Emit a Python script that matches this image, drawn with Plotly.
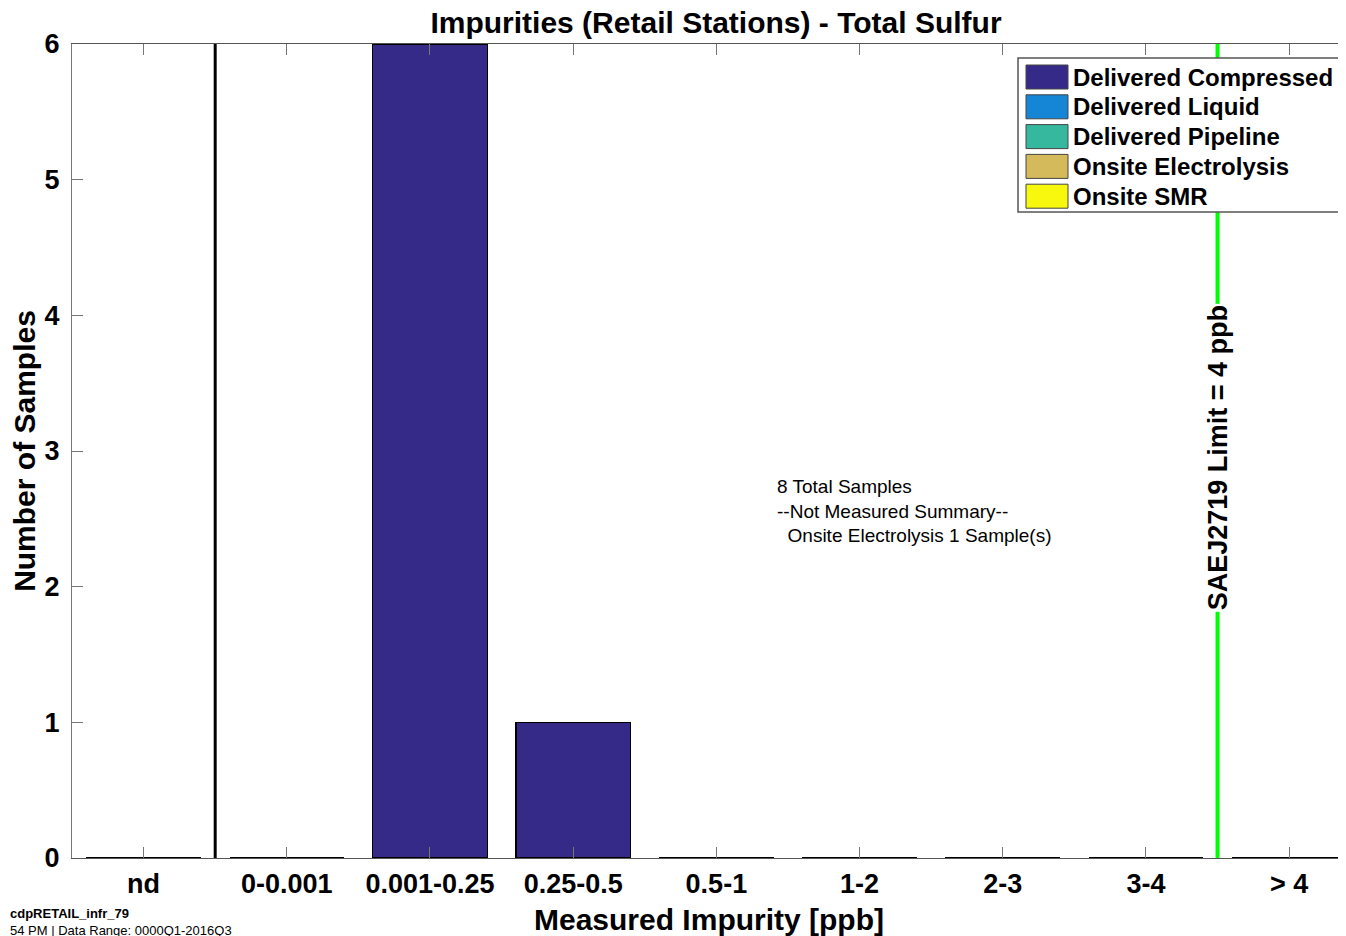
import plotly.graph_objects as go

categories = ['nd', '0-0.001', '0.001-0.25', '0.25-0.5', '0.5-1', '1-2', '2-3', '3-4', '> 4']
series_names = ['Delivered Compressed', 'Delivered Liquid', 'Delivered Pipeline',
                'Onsite Electrolysis', 'Onsite SMR']
series_colors = ['#352A87', '#1585D6', '#35B89D', '#D5BA5B', '#F8F80E']
delivered_compressed = [0, 0, 6, 1, 0, 0, 0, 0, 0]
delivered_liquid = [0, 0, 0, 0, 0, 0, 0, 0, 0]
delivered_pipeline = [0, 0, 0, 0, 0, 0, 0, 0, 0]
onsite_electrolysis = [0, 0, 0, 0, 0, 0, 0, 0, 0]
onsite_smr = [0, 0, 0, 0, 0, 0, 0, 0, 0]
not_measured = {'Onsite Electrolysis': 1}

y_ticks = [0, 1, 2, 3, 4, 5, 6]
nd_divider = 0.5      # between "nd" and "0-0.001"
limit_pos = 7.5       # SAEJ2719 limit, between "3-4" and "> 4"

FONT = 'Liberation Sans, Arial, sans-serif'
# page has an 8px body margin, so the figure is a bit smaller than the window
W, H = 1338, 928
x = list(range(len(categories)))
series_values = [delivered_compressed, delivered_liquid, delivered_pipeline,
                 onsite_electrolysis, onsite_smr]

fig = go.Figure()
for name, col, vals in zip(series_names, series_colors, series_values):
    fig.add_trace(go.Bar(x=x, y=vals, name=name, width=0.8, showlegend=False,
                         marker=dict(color=col, line=dict(color='black', width=1.5))))

fig.add_shape(type='line', x0=nd_divider, x1=nd_divider, y0=0, y1=6,
              line=dict(color='black', width=3))
fig.add_shape(type='line', x0=limit_pos, x1=limit_pos, y0=0, y1=6,
              line=dict(color='#00FF00', width=4))
fig.add_annotation(x=limit_pos, y=2.95, text='SAEJ2719 Limit = 4 ppb', textangle=-90,
                   showarrow=False, bgcolor='white',
                   font=dict(family=FONT, size=27, color='black', weight='bold'))

total = sum(sum(v) for v in series_values) + sum(not_measured.values())
note = f'{total} Total Samples<br>--Not Measured Summary--'
for k, v in not_measured.items():
    note += f'<br>&nbsp;&nbsp;{k} {v} Sample(s)'
fig.add_annotation(x=4.41, y=2.83, xanchor='left', yanchor='top', align='left',
                   text=note, showarrow=False,
                   font=dict(family=FONT, size=19, color='black'))

# custom legend box (MATLAB style), positions given in page pixels
def px_x(p):
    return (p - 72) / 1274

def px_y(p):
    return (858 - p) / 814

fig.add_shape(type='rect', xref='paper', yref='paper', x0=px_x(1018), x1=px_x(1350),
              y0=px_y(212), y1=px_y(58), line=dict(color='#555', width=1.5),
              fillcolor='white', layer='above')
for i, (name, col) in enumerate(zip(series_names, series_colors)):
    cy = 77 + i * 29.8
    fig.add_shape(type='rect', xref='paper', yref='paper', x0=px_x(1026), x1=px_x(1068),
                  y0=px_y(cy + 12), y1=px_y(cy - 12), fillcolor=col,
                  line=dict(color='#444', width=1), layer='above')
    fig.add_annotation(xref='paper', yref='paper', x=px_x(1071), y=px_y(cy),
                       xanchor='left', yanchor='middle', text=name, showarrow=False,
                       font=dict(family=FONT, size=24, color='black', weight='bold'))

fig.add_annotation(xref='paper', yref='paper', x=px_x(8), y=px_y(913), xanchor='left',
                   yanchor='middle', text='cdpRETAIL_infr_79', showarrow=False,
                   font=dict(family=FONT, size=13, color='black', weight='bold'))
fig.add_annotation(xref='paper', yref='paper', x=px_x(8), y=px_y(930), xanchor='left',
                   yanchor='middle', text='54 PM | Data Range: 0000Q1-2016Q3', showarrow=False,
                   font=dict(family=FONT, size=13, color='black'))

fig.update_layout(
    width=W, height=H,
    margin=dict(l=64, r=0, t=36, b=78),
    barmode='stack', bargap=0.2,
    plot_bgcolor='white', paper_bgcolor='white',
    title=dict(text='Impurities (Retail Stations) - Total Sulfur', x=708 / W, xref='container',
               xanchor='center', y=1 - 14 / H, yanchor='middle',
               font=dict(family=FONT, size=30, color='black', weight='bold')),
)
fig.update_xaxes(range=[-0.5, 8.397], tickvals=x, ticktext=categories,
                 showgrid=False, zeroline=False, showline=True, linecolor='#555', linewidth=1,
                 mirror='ticks', ticks='inside', ticklen=11, tickcolor='#777',
                 ticklabelstandoff=2,
                 tickfont=dict(family=FONT, size=27, color='black', weight='bold'),
                 title=dict(text='Measured Impurity [ppb]', standoff=12,
                            font=dict(family=FONT, size=30, color='black', weight='bold')))
fig.update_yaxes(range=[0, 6], tickvals=y_ticks, showgrid=False, zeroline=False,
                 showline=True, linecolor='#777', linewidth=1, mirror=False,
                 ticks='inside', ticklen=11, tickcolor='#777', ticklabelstandoff=6,
                 tickfont=dict(family=FONT, size=27, color='black', weight='bold'),
                 title=dict(text='Number of Samples', standoff=0,
                            font=dict(family=FONT, size=30, color='black', weight='bold')))

fig.write_html('out.html')
